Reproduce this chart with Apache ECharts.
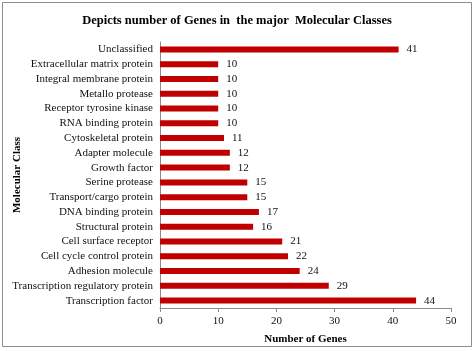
<!DOCTYPE html>
<html>
<head>
<meta charset="utf-8">
<script src="https://cdn.jsdelivr.net/npm/echarts@6/dist/echarts.min.js"></script>
<style>
  html, body { margin: 0; padding: 0; background: #fff; }
  #chart { width: 474px; height: 351px; }
</style>
</head>
<body>
<div id="chart"></div>
<script>
// categories listed bottom to top
var categories = [
    'Transcription factor',
    'Transcription regulatory protein',
    'Adhesion molecule',
    'Cell cycle control protein',
    'Cell surface receptor',
    'Structural protein',
    'DNA binding protein',
    'Transport/cargo protein',
    'Serine protease',
    'Growth factor',
    'Adapter molecule',
    'Cytoskeletal protein',
    'RNA binding protein',
    'Receptor tyrosine kinase',
    'Metallo protease',
    'Integral membrane protein',
    'Extracellular matrix protein',
    'Unclassified'
];
var geneCounts = [44, 29, 24, 22, 21, 16, 17, 15, 15, 12, 12, 11, 10, 10, 10, 10, 10, 41];
var xTicks = [0, 10, 20, 30, 40, 50];

var font = '"Liberation Serif", "Times New Roman", serif';

var chart = echarts.init(document.getElementById('chart'));
chart.setOption({
    animation: false,
    textStyle: { fontFamily: font },
    graphic: [{
        type: 'rect',
        shape: { x: 2.5, y: 2.5, width: 469, height: 344 },
        style: { fill: 'none', stroke: '#8c8c8c', lineWidth: 1 }
    }],
    title: {
        text: 'Depicts number of Genes in  the major  Molecular Classes',
        left: 'center',
        top: 9,
        textStyle: { fontFamily: font, fontSize: 12.5, fontWeight: 'bold', color: '#000' }
    },
    grid: { left: 160, right: 23, top: 42, bottom: 43, outerBoundsMode: 'none', containLabel: false },
    xAxis: {
        type: 'value',
        min: xTicks[0],
        max: xTicks[xTicks.length - 1],
        interval: 10,
        name: 'Number of Genes',
        nameLocation: 'middle',
        nameGap: 26,
        nameTextStyle: { fontFamily: font, fontSize: 11, fontWeight: 'bold', color: '#000' },
        axisLine: { show: true, lineStyle: { color: '#8c8c8c' } },
        axisTick: { show: true, length: 4, lineStyle: { color: '#8c8c8c' } },
        axisLabel: { fontFamily: font, fontSize: 11, color: '#111', margin: 8 },
        splitLine: { show: false }
    },
    yAxis: {
        type: 'category',
        data: categories,
        name: 'Molecular Class',
        nameLocation: 'middle',
        nameGap: 137,
        nameRotate: 90,
        nameMoveOverlap: false,
        nameTextStyle: { fontFamily: font, fontSize: 11, fontWeight: 'bold', color: '#000' },
        axisLine: { show: true, lineStyle: { color: '#8c8c8c' } },
        axisTick: { show: false },
        axisLabel: { fontFamily: font, fontSize: 11, color: '#111', margin: 7, interval: 0 }
    },
    series: [{
        type: 'bar',
        data: geneCounts,
        barWidth: 6,
        itemStyle: { color: '#C00000' },
        label: {
            show: true,
            position: 'right',
            distance: 8,
            fontFamily: font,
            fontSize: 11,
            color: '#111'
        }
    }]
});
</script>
</body>
</html>
